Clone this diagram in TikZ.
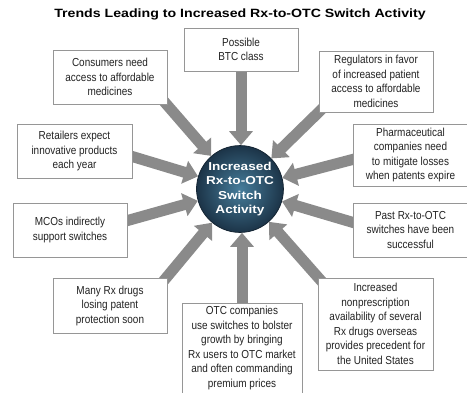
\documentclass[tikz,border=0pt]{standalone}
\usepackage{fontspec}
\setmainfont{Liberation Sans}[FakeStretch=0.86]
\newfontfamily\heavy{Liberation Sans}[FakeStretch=1.18]
\usetikzlibrary{arrows.meta}
\pgfdeclarelayer{bg}
\pgfdeclarelayer{arr}
\pgfsetlayers{bg,arr,main}
\definecolor{arrgray}{RGB}{138,138,138}
\definecolor{boxline}{RGB}{150,150,150}
\definecolor{txt}{RGB}{35,35,35}
\definecolor{hubin}{RGB}{70,125,155}
\definecolor{hubout}{RGB}{28,52,72}
\definecolor{hubline}{RGB}{20,36,50}
\tikzset{
  box/.style={draw=boxline, line width=0.6pt, fill=white, align=center, inner sep=0pt,
    text=txt, font=\fontsize{11.6}{14.5}\selectfont},
  feed/.style={draw=arrgray, line width=11pt,
    -{Triangle[width=23pt,length=14pt]}},
}
\begin{document}
\begin{tikzpicture}[x=1pt,y=-1pt]
\useasboundingbox (0,0) rectangle (467,392);
\begin{pgfonlayer}{bg}
\fill[white] (0,0) rectangle (467,392);
\node[circle, minimum size=84pt, inner sep=0pt, draw=hubline, line width=0.8pt,
  inner color=hubin, outer color=hubout, text=white, align=center,
  font=\heavy\bfseries\fontsize{11.5}{14.5}\selectfont] (hub) at (240,189)
  {Increased\\Rx-to-OTC\\Switch\\Activity};
\end{pgfonlayer}
\node[font=\heavy\bfseries\fontsize{12}{14}\selectfont, text=black] (title) at (240,14) {Trends Leading to Increased Rx-to-OTC Switch Activity};
\node[box, minimum width=114pt, minimum height=54pt] (cons) at (110,77) {Consumers need\\access to affordable\\medicines};
\node[box, minimum width=114pt, minimum height=43pt] (btc) at (241,49.5) {Possible\\BTC class};
\node[box, minimum width=114pt, minimum height=61pt] (reg) at (376,81.5) {Regulators in favor\\of increased patient\\access to affordable\\medicines};
\node[box, minimum width=115pt, minimum height=54pt] (ret) at (74.5,151) {Retailers expect\\innovative products\\each year};
\node[box, minimum width=114pt, minimum height=62pt] (pha) at (410.5,155) {Pharmaceutical\\companies need\\to mitigate losses\\when patents expire};
\node[box, minimum width=114pt, minimum height=54pt] (mco) at (70,230) {MCOs indirectly\\support switches};
\node[box, minimum width=114pt, minimum height=54pt] (past) at (410.5,230) {Past Rx-to-OTC\\switches have been\\successful};
\node[box, minimum width=114pt, minimum height=55pt] (many) at (110,305.5) {Many Rx drugs\\losing patent\\protection soon};
\node[box, minimum width=120pt, minimum height=90pt] (otc) at (242,348) {OTC companies\\use switches to bolster\\growth by bringing\\Rx users to OTC market\\and often commanding\\premium prices};
\node[box, minimum width=115pt, minimum height=92pt] (nonp) at (375.5,324) {Increased\\nonprescription\\availability of several\\Rx drugs overseas\\provides precedent for\\the United States};
\begin{pgfonlayer}{arr}
\draw[feed] ([shift={(-6,-6)}]cons.south east) -- (hub);
\draw[feed] (btc.south) -- (btc.south |- hub.north);
\draw[feed] ([shift={(6,-6)}]reg.south west) -- (hub);
\draw[feed] ([shift={(-5,4)}]ret.east) -- (hub);
\draw[feed] ([shift={(5,3)}]pha.west) -- (hub);
\draw[feed] ([shift={(-5,-8)}]mco.east) -- (hub);
\draw[feed] ([shift={(5,-6)}]past.west) -- (hub);
\draw[feed] ([shift={(-6,6)}]many.north east) -- (hub);
\draw[feed] (otc.north) -- (otc.north |- hub.south);
\draw[feed] ([shift={(6,6)}]nonp.north west) -- (hub);
\end{pgfonlayer}
\end{tikzpicture}
\end{document}
